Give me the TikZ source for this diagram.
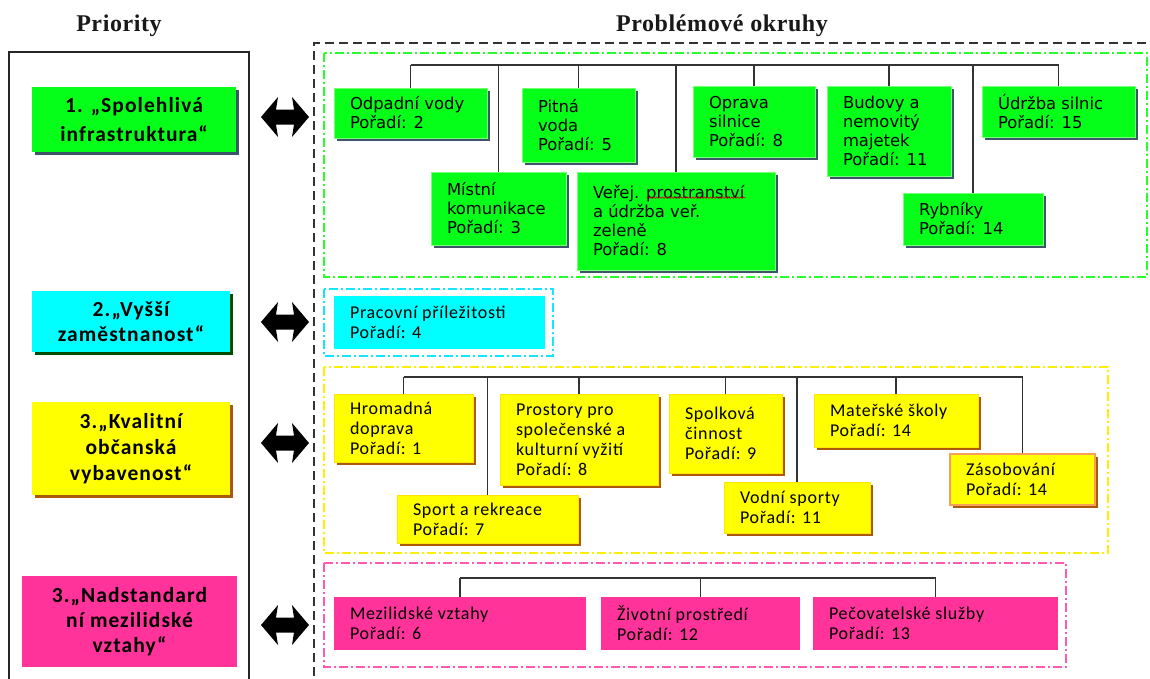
\documentclass[tikz,border=0pt]{standalone}
\usepackage{fontspec}
\setmainfont{Liberation Serif}
\newfontfamily\dvs{DejaVu Sans}
\newfontfamily\carlfont[LetterSpace=4]{Carlito}
\newfontfamily\carlbfont[LetterSpace=5]{Carlito}
\newfontfamily\ttlfont[LetterSpace=2.5]{Liberation Serif}
\usetikzlibrary{shadows,decorations.pathmorphing}
\definecolor{gfill}{RGB}{5,255,25}
\definecolor{gline}{RGB}{120,255,120}
\definecolor{gshadow}{RGB}{60,85,105}
\definecolor{cfill}{RGB}{0,255,255}
\definecolor{yfill}{RGB}{255,255,0}
\definecolor{yshadow}{RGB}{170,90,10}
\definecolor{pfill}{RGB}{255,51,153}
\definecolor{pline}{RGB}{255,90,175}
\definecolor{orng}{RGB}{245,160,90}
\definecolor{gframe}{RGB}{40,255,40}
\definecolor{cframe}{RGB}{20,230,255}
\definecolor{yframe}{RGB}{250,240,0}
\newcommand\mybox[7]{%
  \node[#6, minimum width=#4pt, minimum height=#5pt] (#1) at ({#2+#4/2},{#3+#5/2})
    {\parbox{\dimexpr#4pt-32pt\relax}{\raggedright #7}};}
\newcommand\prbox[7]{%
  \node[#6, minimum width=#4pt, minimum height=#5pt] (#1) at ({#2+#4/2},{#3+#5/2})
    {\parbox{\dimexpr#4pt-12pt\relax}{\centering #7}};}
\tikzset{
  base/.style={rectangle, inner xsep=16pt, inner ysep=0pt, text=black},
  gbox/.style={base, fill=gfill, draw=gline, line width=0.6pt,
    font=\dvs\fontsize{16.4}{19}\selectfont,
    drop shadow={shadow xshift=2.5pt, shadow yshift=-2.5pt, fill=gshadow, opacity=1}},
  ybox/.style={base, fill=yfill, draw=yfill!80!orange, line width=0.6pt,
    font=\carlfont\fontsize{18}{20}\selectfont,
    drop shadow={shadow xshift=2.5pt, shadow yshift=-2.5pt, fill=yshadow, opacity=1}},
  cbox/.style={base, fill=cfill, font=\carlfont\fontsize{18}{20}\selectfont},
  pbox/.style={base, fill=pfill, font=\carlfont\fontsize{18}{20}\selectfont},
  prio/.style={rectangle, inner xsep=6pt, inner ysep=0pt, text=black,
    font=\carlbfont\bfseries\fontsize{21.5}{#1}\selectfont},
  conn/.style={draw=black!80, line width=1.3pt},
  grp/.style={line width=1.4pt, dash pattern=on 9pt off 3pt on 2pt off 3pt},
  ttlf/.style={font=\ttlfont\bfseries\fontsize{24}{27}\selectfont, text=black!90, inner sep=0pt},
  dblarrow/.pic={\fill[black] (-24,0) -- (-7,-20) -- (-9,-7.5) -- (9,-7.5) -- (7,-20)
     -- (24,0) -- (7,20) -- (9,7.5) -- (-9,7.5) -- (-7,20) -- cycle;}
}
\begin{document}
\begin{tikzpicture}[x=1pt,y=-1pt]
\useasboundingbox (0,0) rectangle (1150,678);
\fill[white] (0,0) rectangle (1150,678);
\clip (0,0) rectangle (1150,678);

% titles
\node[ttlf, anchor=base] (tprio) at (119,31) {Priority};
\node[ttlf, anchor=base] (tprob) at (722,31) {Problémové okruhy};

% outer frames
\draw[line width=2pt, black!85] (9,690) -- (9,52) -- (249,52) -- (249,690);
\draw[line width=2.5pt, black!80, dash pattern=on 9pt off 5pt] (314,690) -- (314,43) -- (1160,43);

% group frames
\draw[grp, gframe] (324,53) rectangle (1147,277);
\draw[grp, cframe] (324,289) rectangle (553,356);
\draw[grp, yframe] (324,367) rectangle (1108,553);
\draw[grp, pline] (324,563) rectangle (1066,667);

% priority boxes
\prbox{p1}{32}{87}{204}{65}{prio=29, fill=gfill, drop shadow={shadow xshift=2.5pt, shadow yshift=-2.5pt, fill=gshadow, opacity=1}}{1. „Spolehlivá\\infrastruktura“}
\prbox{p2}{32}{291}{198}{61}{prio=25, fill=cfill, drop shadow={shadow xshift=2.5pt, shadow yshift=-2.5pt, fill=black!70!green, opacity=1}}{2.„Vyšší\\zaměstnanost“}
\prbox{p3}{32}{402}{198}{93}{prio=26, fill=yfill, drop shadow={shadow xshift=2.5pt, shadow yshift=-2.5pt, fill=yshadow, opacity=1}}{3.„Kvalitní\\občanská\\vybavenost“}
\prbox{p4}{22}{576}{215}{91}{prio=25, fill=pfill}{3.„Nadstandard\\ní mezilidské\\vztahy“}

% arrows
\pic (a1) at (285,117) {dblarrow};
\pic (a2) at (285,322) {dblarrow};
\pic (a3) at (285,443) {dblarrow};
\pic (a4) at (285,625) {dblarrow};

% green group
\mybox{odp}{334}{88}{153}{50}{gbox}{Odpadní vody\\Pořadí: 2}
\mybox{pit}{522}{88}{113}{74}{gbox}{Pitná\\voda\\Pořadí: 5}
\mybox{opr}{693}{86}{122}{71}{gbox}{Oprava\\silnice\\Pořadí: 8}
\mybox{bud}{827}{86}{124}{90}{gbox}{Budovy a\\nemovitý\\majetek\\Pořadí: 11}
\mybox{udr}{982}{86}{153}{51}{gbox}{Údržba silnic\\Pořadí: 15}
\mybox{mis}{431}{172}{135}{73}{gbox}{Místní\\komunikace\\Pořadí: 3}
\mybox{ver}{577}{172}{198}{98}{gbox}{Veřej. prostranství\\a údržba veř.\\zeleně\\Pořadí: 8}
\mybox{ryb}{903}{193}{140}{52}{gbox}{Rybníky\\Pořadí: 14}
\draw[red!80!black, line width=0.6pt, decorate, decoration={snake, amplitude=0.7pt, segment length=3pt}]
  ([xshift=70pt,yshift=-26pt]ver.north west) -- ([xshift=169pt,yshift=-26pt]ver.north west);
\coordinate (gb) at (0,65);
\draw[conn] (odp.north |- gb) -- (udr.north |- gb);
\foreach \n in {odp,mis,pit,ver,opr,bud,ryb,udr} \draw[conn] (\n.north) -- (\n.north |- gb);

% cyan group
\mybox{pra}{334}{296}{211}{53}{cbox}{Pracovní příležitosti\\Pořadí: 4}

% yellow group
\mybox{hro}{334}{394}{139}{68}{ybox}{Hromadná\\doprava\\Pořadí: 1}
\mybox{pro}{500}{394}{158}{91}{ybox}{Prostory pro\\společenské a\\kulturní vyžití\\Pořadí: 8}
\mybox{spo}{669}{394}{113}{79}{ybox}{Spolková\\činnost\\Pořadí: 9}
\mybox{mat}{814}{394}{164}{53}{ybox}{Mateřské školy\\Pořadí: 14}
\mybox{spr}{397}{495}{181}{48}{ybox}{Sport a rekreace\\Pořadí: 7}
\mybox{vod}{724}{482}{146}{51}{ybox}{Vodní sporty\\Pořadí: 11}
\mybox{zas}{950}{454}{145}{51}{ybox, draw=orng, line width=1.2pt}{Zásobování\\Pořadí: 14}
\coordinate (yb) at (0,377);
\draw[conn] (hro.north |- yb) -- (zas.north |- yb);
\foreach \n in {hro,spr,pro,spo,vod,mat,zas} \draw[conn] (\n.north) -- (\n.north |- yb);

% pink group
\mybox{mez}{334}{597}{252}{53}{pbox}{Mezilidské vztahy\\Pořadí: 6}
\mybox{ziv}{601}{597}{199}{53}{pbox}{Životní prostředí\\Pořadí: 12}
\mybox{pec}{813}{597}{245}{53}{pbox}{Pečovatelské služby\\Pořadí: 13}
\coordinate (pb) at (0,578);
\draw[conn] (mez.north |- pb) -- (pec.north |- pb);
\foreach \n in {mez,ziv,pec} \draw[conn] (\n.north) -- (\n.north |- pb);
\end{tikzpicture}
\end{document}
